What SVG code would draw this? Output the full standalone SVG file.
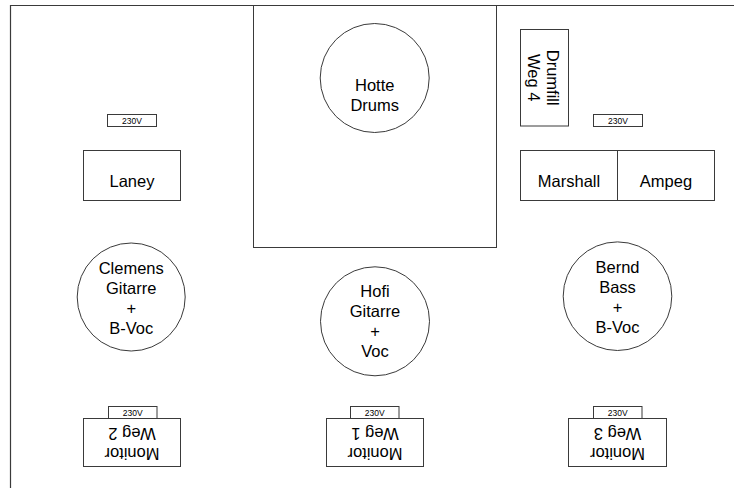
<svg xmlns="http://www.w3.org/2000/svg" width="734" height="488" viewBox="0 0 734 488">
<style>
.s{fill:#fff;stroke:#3a3a3a;stroke-width:1}
.f{fill:none;stroke:#3a3a3a;stroke-width:1.2}
.t{font-family:"Liberation Sans",Arial,sans-serif;font-size:16.5px;fill:#000;text-anchor:middle}
.v{font-family:"Liberation Sans",Arial,sans-serif;font-size:8.5px;fill:#000;text-anchor:middle}
</style>
<rect width="734" height="488" fill="#fff"/>
<g id="frame">
<path class="f" d="M10.5 488V5.5H734"/>
</g>
<g id="drum-riser">
<rect class="s" x="253.5" y="5.5" width="243" height="242"/>
</g>
<g id="hotte">
<circle class="s" cx="374.7" cy="78" r="54.5"/>
<text class="t" x="374.7" y="91">Hotte</text>
<text class="t" x="374.7" y="111">Drums</text>
</g>
<g id="power-left">
<rect class="s" x="107.5" y="114.5" width="49" height="12"/>
<text class="v" x="132" y="123.5">230V</text>
</g>
<g id="laney">
<rect class="s" x="83.5" y="150.5" width="97" height="50"/>
<text class="t" x="132" y="187">Laney</text>
</g>
<g id="drumfill">
<rect class="s" x="520.5" y="29.5" width="48" height="96.5"/>
<g transform="rotate(90 544.7 77.7)">
<text class="t" x="544.7" y="75">Drumfill</text>
<text class="t" x="544.7" y="94">Weg 4</text>
</g>
</g>
<g id="power-right">
<rect class="s" x="593.5" y="114.5" width="49" height="12"/>
<text class="v" x="618" y="123.5">230V</text>
</g>
<g id="marshall">
<rect class="s" x="520.5" y="150.5" width="97" height="50"/>
<text class="t" x="569" y="187">Marshall</text>
</g>
<g id="ampeg">
<rect class="s" x="617.5" y="150.5" width="97" height="50"/>
<text class="t" x="666" y="187">Ampeg</text>
</g>
<g id="clemens">
<circle class="s" cx="131.2" cy="297" r="54"/>
<text class="t" x="131.2" y="274">Clemens</text>
<text class="t" x="131.2" y="294">Gitarre</text>
<text class="t" x="131.2" y="314">+</text>
<text class="t" x="131.2" y="334">B-Voc</text>
</g>
<g id="hofi">
<circle class="s" cx="375" cy="321.3" r="54.5"/>
<text class="t" x="375" y="297">Hofi</text>
<text class="t" x="375" y="317">Gitarre</text>
<text class="t" x="375" y="337">+</text>
<text class="t" x="375" y="357">Voc</text>
</g>
<g id="bernd">
<circle class="s" cx="617.5" cy="296.2" r="54.3"/>
<text class="t" x="617.5" y="273">Bernd</text>
<text class="t" x="617.5" y="293">Bass</text>
<text class="t" x="617.5" y="313">+</text>
<text class="t" x="617.5" y="333">B-Voc</text>
</g>
<g id="monitor-2">
<rect class="s" x="108.5" y="406.5" width="48.5" height="12"/>
<text class="v" x="132.7" y="415.5">230V</text>
<rect class="s" x="83.5" y="418.5" width="97" height="48"/>
<g transform="rotate(180 132 442.5)">
<text class="t" x="132" y="437">Monitor</text>
<text class="t" x="132" y="457">Weg 2</text>
</g>
</g>
<g id="monitor-1">
<rect class="s" x="350.5" y="406.5" width="48.5" height="12"/>
<text class="v" x="374.7" y="415.5">230V</text>
<rect class="s" x="326.5" y="418.5" width="97" height="48"/>
<g transform="rotate(180 375 442.5)">
<text class="t" x="375" y="437">Monitor</text>
<text class="t" x="375" y="457">Weg 1</text>
</g>
</g>
<g id="monitor-3">
<rect class="s" x="593.5" y="406.5" width="48.5" height="12"/>
<text class="v" x="617.7" y="415.5">230V</text>
<rect class="s" x="568.5" y="418.5" width="98" height="48"/>
<g transform="rotate(180 617.5 442.5)">
<text class="t" x="617.5" y="437">Monitor</text>
<text class="t" x="617.5" y="457">Weg 3</text>
</g>
</g>
<g id="connectors"/>
</svg>
